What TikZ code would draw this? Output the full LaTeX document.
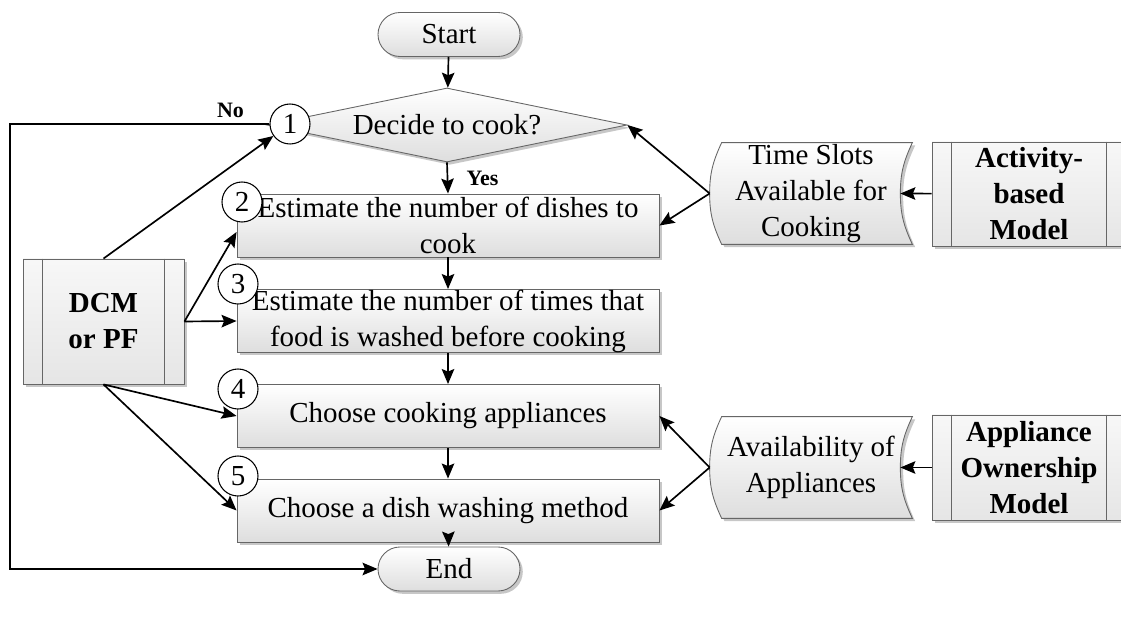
\documentclass[tikz,border=0pt]{standalone}
\usepackage{fontspec}
\setmainfont{Liberation Serif}
\usetikzlibrary{shapes.geometric,shadows,arrows.meta,backgrounds}

\begin{document}
\begin{tikzpicture}[
        font=\fontsize{16.5}{20.5}\selectfont,
        fillbox/.style={draw=black!60, line width=0.5pt, top color=white, bottom color=black!13,
            general shadow={fill=black!22, shadow xshift=1.6pt, shadow yshift=-1.6pt}},
        process/.style={fillbox, minimum width=8.44cm, minimum height=1.26cm, align=center, inner sep=0pt},
        term/.style={fillbox, rounded corners=0.44cm, minimum width=2.84cm, minimum height=0.88cm, inner sep=0pt},
        decision/.style={fillbox, diamond, aspect=4.9, minimum width=7.2cm, minimum height=1.48cm, inner sep=0pt},
        model/.style={fillbox, top color=black!3, bottom color=black!10, minimum width=3.88cm, minimum height=2.08cm,
            align=center, font=\fontsize{16.5}{20.5}\selectfont\bfseries, inner sep=0pt},
        store/.style={minimum width=4.04cm, minimum height=2.02cm, align=center, inner sep=0pt},
        num/.style={draw, circle, fill=white, line width=0.6pt, minimum size=0.8cm, inner sep=0pt},
        lbl/.style={font=\fontsize{12.5}{15}\selectfont\bfseries},
        line/.style={line width=0.95pt, -{Stealth[length=3mm, width=2.5mm, inset=0.5mm]}}
    ]

    \useasboundingbox (0,0) rectangle (22.42,12.38);

    % Start / End
    \node[term] (start) at (8.98,11.69) {Start};
    \node[term] (end) at (8.98,1.00) {End};

    % Decision
    \node[decision] (dec) at (8.94,9.88) {Decide to cook?};

    % Steps
    \node[process] (b2) at (8.96,7.87) {Estimate the number of dishes to\\cook};
    \node[process] (b3) at (8.96,5.96) {Estimate the number of times that\\food is washed before cooking};
    \node[process] (b4) at (8.96,4.06) {Choose cooking appliances};
    \node[process] (b5) at (8.96,2.17) {Choose a dish washing method};

    % Models
    \node[model, minimum width=3.22cm, minimum height=2.5cm] (dcm) at (2.07,5.95) {DCM\\or PF};
    \node[model] (act) at (20.58,8.50) {Activity-\\based\\Model};
    \node[model, minimum height=2.1cm] (own) at (20.58,3.03) {Appliance\\Ownership\\Model};
    \foreach \n in {dcm,act,own} {
        \draw[black!60, line width=0.5pt] ([xshift=0.4cm]\n.north west) -- ([xshift=0.4cm]\n.south west)
            ([xshift=-0.4cm]\n.north east) -- ([xshift=-0.4cm]\n.south east);
    }

    % Stored data
    \node[store] (ts) at (16.22,8.51) {Time Slots\\Available for\\Cooking};
    \node[store] (as) at (16.22,3.03) {Availability of\\Appliances};
    \begin{scope}[on background layer]
        \foreach \n in {ts,as} {
            \draw[fillbox] ([xshift=0.24cm]\n.north west) to[out=-115, in=90] (\n.west)
                to[out=-90, in=115] ([xshift=0.24cm]\n.south west) -- (\n.south east)
                to[out=115, in=-90] ([xshift=-0.24cm]\n.east) to[out=90, in=-115] (\n.north east) -- cycle;
        }
    \end{scope}

    % Step numbers
    \node[num] (c1) at (5.80,9.90) {1};
    \node[num] (c2) at (4.84,8.34) {2};
    \node[num] (c3) at (4.76,6.70) {3};
    \node[num] (c4) at (4.76,4.60) {4};
    \node[num] (c5) at (4.76,2.86) {5};

    % Main flow
    \coordinate (lft) at (0.2,9.90);
    \draw[line] (start) -- (dec);
    \draw[line] (dec.south) -- node[lbl, right, xshift=0.25cm] {Yes} (b2.north);
    \draw[line] (c1.west) -- node[lbl, above, pos=0.15] {No} (lft) |- (end.west);
    \draw[line] (b2) -- (b3);
    \draw[line] (b3) -- (b4);
    \draw[line] (b4) -- (b5);
    \draw[line] (b5) -- (end);

    % Inputs
    \draw[line] (dcm.north) -- (c1);
    \draw[line] (dcm.east) -- ([yshift=-0.13cm]b2.west);
    \draw[line] (dcm.east) -- (b3.west);
    \draw[line] (dcm.south) -- (b4.west);
    \draw[line] (dcm.south) -- (b5.west);
    \draw[line] (act) -- ([xshift=-0.24cm]ts.east);
    \draw[line] (ts.west) -- (dec.east);
    \draw[line] (ts.west) -- (b2.east);
    \draw[line] (own) -- ([xshift=-0.24cm]as.east);
    \draw[line] (as.west) -- (b4.east);
    \draw[line] (as.west) -- (b5.east);

\end{tikzpicture}
\end{document}
